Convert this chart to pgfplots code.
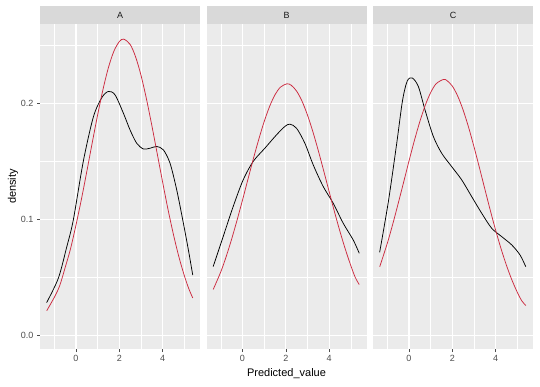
\documentclass[border=0pt]{standalone}
\usepackage{pgfplots}
\pgfplotsset{compat=1.18}
\usepackage{fontspec}
\setmainfont{Liberation Sans}
\definecolor{panelbg}{HTML}{EBEBEB}
\definecolor{stripbg}{HTML}{D9D9D9}
\definecolor{axtext}{HTML}{4D4D4D}
\definecolor{redline}{HTML}{CC2A3F}
\pgfplotsset{
  facet/.style={
    scale only axis, width=160pt, height=325pt, anchor=south west,
    xmin=-1.66, xmax=5.72, ymin=-0.0114, ymax=0.268,
    axis background/.style={fill=panelbg},
    axis line style={draw=none},
    grid=both,
    major grid style={white, line width=1.1pt},
    minor grid style={white, line width=0.5pt},
    xtick={0,2,4}, minor xtick={-1,1,3,5},
    ytick={0,0.1,0.2}, minor ytick={0.05,0.15,0.25},
    tick pos=left, tick align=outside,
    major tick length=3pt, minor tick length=0pt,
    tick style={axtext, line width=0.6pt},
    ticklabel style={font=\fontsize{9}{10}\selectfont, text=axtext},
    /pgf/number format/assume math mode=true,
    yticklabel style={/pgf/number format/.cd, fixed, fixed zerofill, precision=1},
    every axis plot/.append style={line width=0.75pt, no markers},
  },
  blk/.style={black, smooth, tension=0.5},
  rd/.style={redline, smooth, tension=0.5},
}
\begin{document}
\begin{tikzpicture}
\path[use as bounding box] (0,0) rectangle (540pt,386pt);
% Panel A
\begin{axis}[facet, at={(40pt,37pt)}]
\addplot[blk] coordinates {
(-1.354,0.0285) (-0.815,0.0494) (-0.431,0.0760) (-0.123,0.0996) (0.338,0.1500)
(0.8,0.1880) (1.185,0.2045) (1.492,0.2100) (1.8,0.2071) (2.185,0.1914)
(2.492,0.1770) (2.8,0.1655) (3.108,0.1606) (3.415,0.1612) (3.723,0.1627)
(4.03,0.1598) (4.338,0.1483) (4.646,0.1254) (4.954,0.0967) (5.185,0.0737) (5.385,0.0522)};
\addplot[rd] coordinates {
(-1.35,0.0215) (-1,0.0330) (-0.75,0.0431) (-0.5,0.0586) (-0.25,0.0749) (0,0.0952)
(0.25,0.1173) (0.5,0.1413) (0.75,0.1660) (1,0.1900) (1.25,0.2121) (1.5,0.2308)
(1.75,0.2447) (2,0.2529) (2.2,0.2550) (2.5,0.2504) (2.75,0.2397) (3,0.2238)
(3.25,0.2036) (3.5,0.1806) (3.75,0.1562) (4,0.1317) (4.25,0.1081) (4.5,0.0866)
(4.75,0.0676) (5,0.0515) (5.2,0.0406) (5.385,0.0325)};
\end{axis}
% Panel B
\begin{axis}[facet, at={(206.5pt,37pt)}, yticklabels={}, ytick style={draw=none}]
\addplot[blk] coordinates {
(-1.354,0.0594) (-0.892,0.0852) (-0.431,0.1110) (0.031,0.1340) (0.492,0.1498)
(1.031,0.1612) (1.569,0.1727) (1.954,0.1799) (2.185,0.1819) (2.492,0.1784)
(2.877,0.1655) (3.262,0.1469) (3.723,0.1283) (4.185,0.1139) (4.646,0.0967)
(5.108,0.0823) (5.385,0.0709)};
\addplot[rd] coordinates {
(-1.35,0.0398) (-1,0.0550) (-0.75,0.0682) (-0.5,0.0831) (-0.25,0.0994) (0,0.1166)
(0.25,0.1344) (0.5,0.1521) (0.75,0.1688) (1,0.1841) (1.25,0.1971) (1.5,0.2072)
(1.75,0.2137) (2.05,0.2166) (2.25,0.2153) (2.5,0.2102) (2.75,0.2015) (3,0.1896)
(3.25,0.1752) (3.5,0.1589) (3.75,0.1415) (4,0.1237) (4.25,0.1061) (4.5,0.0894)
(4.75,0.0740) (5,0.0601) (5.2,0.0502) (5.385,0.0440)};
\end{axis}
% Panel C
\begin{axis}[facet, at={(373pt,37pt)}, yticklabels={}, ytick style={draw=none}]
\addplot[blk] coordinates {
(-1.354,0.0717) (-0.954,0.1150) (-0.569,0.1650) (-0.300,0.2020) (-0.080,0.2190)
(0.154,0.2215) (0.431,0.2143) (0.738,0.1942) (1.123,0.1713) (1.508,0.1569)
(1.969,0.1454) (2.431,0.1340) (2.892,0.1196) (3.354,0.1053) (3.815,0.0924)
(4.277,0.0852) (4.738,0.0781) (5.123,0.0694) (5.385,0.0594)};
\addplot[rd] coordinates {
(-1.35,0.0593) (-1,0.0795) (-0.75,0.0959) (-0.5,0.1136) (-0.25,0.1318) (0,0.1502)
(0.25,0.1679) (0.5,0.1841) (0.75,0.1981) (1,0.2091) (1.25,0.2166) (1.585,0.2203)
(1.75,0.2194) (2,0.2146) (2.25,0.2059) (2.5,0.1939) (2.75,0.1791) (3,0.1623)
(3.25,0.1444) (3.5,0.1260) (3.75,0.1078) (4,0.0905) (4.25,0.0746) (4.5,0.0603)
(4.75,0.0478) (5,0.0372) (5.2,0.0301) (5.385,0.0260)};
\end{axis}
% strips
\fill[stripbg] (40pt,362pt) rectangle (200pt,380pt);
\fill[stripbg] (206.5pt,362pt) rectangle (366.5pt,380pt);
\fill[stripbg] (373pt,362pt) rectangle (533pt,380pt);
\node[text={rgb,255:red,26;green,26;blue,26}, font=\fontsize{9}{10}\selectfont] at (120pt,371pt) {A};
\node[text={rgb,255:red,26;green,26;blue,26}, font=\fontsize{9}{10}\selectfont] at (286.5pt,371pt) {B};
\node[text={rgb,255:red,26;green,26;blue,26}, font=\fontsize{9}{10}\selectfont] at (453pt,371pt) {C};
% axis titles
\node[font=\fontsize{11}{12}\selectfont] at (286.5pt,12pt) {Predicted\_value};
\node[font=\fontsize{11}{12}\selectfont, rotate=90] at (13pt,199.5pt) {density};
\end{tikzpicture}
\end{document}
